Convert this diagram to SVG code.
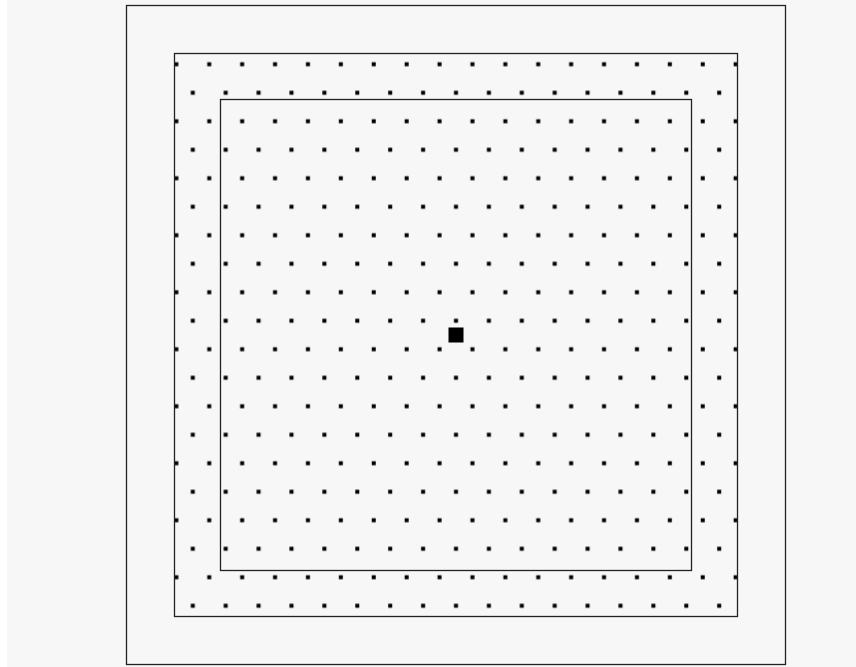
<svg xmlns="http://www.w3.org/2000/svg" width="856" height="667" viewBox="0 0 856 667">
  <style>
    .frame { fill: none; stroke: #222; stroke-width: 1.3; }
    .dot { fill: #000; }
  </style>
  <defs>
    <pattern id="dots" patternUnits="userSpaceOnUse" x="447.775" y="78.5" width="32.9" height="57">
      <rect class="dot" x="6.225" y="12.25" width="4" height="4"/>
      <rect class="dot" x="22.675" y="40.75" width="4" height="4"/>
    </pattern>
    <clipPath id="midClip">
      <rect x="174.5" y="53.5" width="563" height="563"/>
    </clipPath>
  </defs>
  <rect x="0" y="0" width="856" height="667" fill="#ffffff"/>
  <rect x="7" y="0" width="849" height="667" fill="#f7f7f7"/>
  <g id="outer">
    <rect class="frame" x="126.5" y="5.5" width="659" height="659"/>
  </g>
  <g id="dot-field">
    <rect x="174.5" y="53.5" width="563" height="563" fill="url(#dots)" clip-path="url(#midClip)"/>
  </g>
  <g id="middle">
    <rect class="frame" x="174.5" y="53.5" width="563" height="563"/>
  </g>
  <g id="inner">
    <rect class="frame" x="220.5" y="99.5" width="471" height="471"/>
  </g>
  <g id="center">
    <rect x="448.5" y="327.5" width="15" height="15" fill="#000"/>
  </g>
</svg>
